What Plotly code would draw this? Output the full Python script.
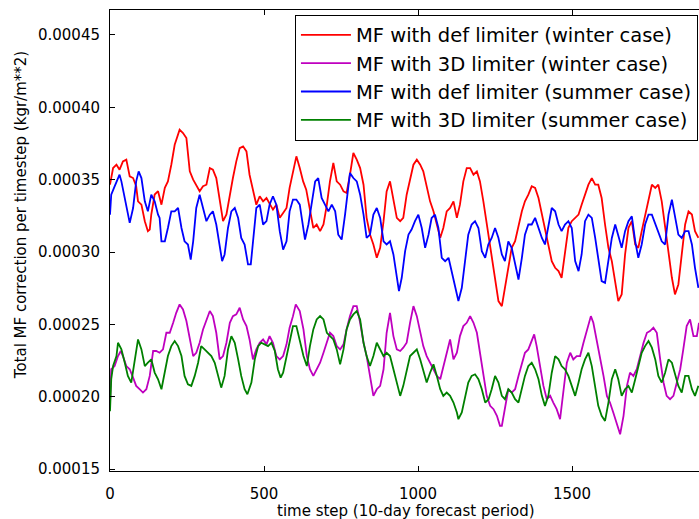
import plotly.graph_objects as go

UNIT = 1e-4  # values below are in units of 1e-4 kgr/m**2

names = [
    "MF with def limiter (winter case)",
    "MF with 3D limiter (winter case)",
    "MF with def limiter (summer case)",
    "MF with 3D limiter (summer case)",
]
colors = ["#ff0000", "#bf00bf", "#0000ff", "#008000"]

x_ticks = [0, 500, 1000, 1500]
y_ticks = [0.00015, 0.00020, 0.00025, 0.00030, 0.00035, 0.00040, 0.00045]

winter_def = [(0,3.465),(10,3.580),(21,3.603),(31,3.569),(42,3.626),(53,3.638),(64,3.523),(75,3.511),(85,3.454),(91,3.350),(102,3.327),(113,3.213),(123,3.144),(129,3.155),(134,3.259),(145,3.397),(156,3.420),(167,3.327),(178,3.443),(188,3.488),(199,3.603),(210,3.741),(226,3.845),(237,3.822),(248,3.787),(259,3.557),(270,3.500),(280,3.465),(291,3.420),(302,3.454),(313,3.465),(324,3.580),(334,3.569),(345,3.511),(356,3.350),(367,3.213),(378,3.259),(389,3.397),(399,3.511),(410,3.626),(421,3.718),(432,3.730),(443,3.695),(453,3.534),(464,3.420),(475,3.327),(486,3.385),(497,3.350),(508,3.373),(518,3.339),(529,3.293),(540,3.327),(551,3.236),(562,3.270),(573,3.304),(583,3.443),(594,3.557),(605,3.661),(616,3.580),(627,3.488),(637,3.431),(649,3.281),(660,3.166),(671,3.190),(682,3.144),(693,3.190),(704,3.327),(714,3.488),(725,3.615),(736,3.488),(747,3.465),(758,3.419),(768,3.408),(779,3.534),(790,3.684),(801,3.638),(812,3.580),(823,3.465),(833,3.236),(844,3.121),(855,3.052),(866,2.960),(877,3.029),(888,3.213),(898,3.419),(909,3.488),(920,3.350),(931,3.236),(942,3.213),(952,3.236),(963,3.396),(974,3.511),(985,3.603),(996,3.638),(1007,3.603),(1017,3.557),(1028,3.443),(1039,3.350),(1050,3.281),(1061,3.190),(1072,3.098),(1082,3.166),(1093,3.281),(1104,3.304),(1115,3.350),(1126,3.236),(1136,3.327),(1147,3.488),(1158,3.580),(1169,3.580),(1180,3.534),(1191,3.557),(1201,3.488),(1212,3.350),(1223,3.190),(1234,3.029),(1245,2.868),(1261,2.661),(1272,2.626),(1282,2.753),(1293,2.914),(1304,3.029),(1315,3.075),(1326,3.190),(1337,3.281),(1347,3.350),(1358,3.396),(1369,3.454),(1380,3.443),(1391,3.373),(1402,3.259),(1412,3.144),(1423,3.029),(1434,2.937),(1445,2.891),(1456,2.868),(1466,2.822),(1477,2.983),(1488,3.167),(1499,3.213),(1510,3.236),(1521,3.259),(1531,3.327),(1542,3.396),(1553,3.465),(1564,3.511),(1575,3.465),(1585,3.465),(1596,3.373),(1607,3.190),(1618,3.029),(1629,2.937),(1640,2.799),(1650,2.661),(1661,2.707),(1672,2.983),(1683,3.167),(1694,3.213),(1705,3.052),(1715,3.029),(1726,3.144),(1737,3.259),(1748,3.373),(1759,3.465),(1770,3.443),(1780,3.465),(1791,3.350),(1802,3.167),(1813,2.983),(1824,2.822),(1834,2.707),(1845,2.776),(1856,2.983),(1867,3.190),(1878,3.281),(1889,3.259),(1899,3.144),(1910,3.098)]

winter_3d = [(0,1.95),(4,2.190),(15,2.212),(26,2.281),(35,2.316),(42,2.281),(53,2.212),(64,2.190),(75,2.132),(85,2.075),(96,2.052),(107,2.029),(118,2.052),(129,2.144),(140,2.316),(150,2.316),(161,2.304),(172,2.327),(183,2.442),(194,2.442),(205,2.511),(215,2.580),(226,2.638),(237,2.603),(248,2.523),(259,2.396),(270,2.281),(280,2.304),(291,2.373),(302,2.465),(313,2.534),(324,2.592),(334,2.557),(345,2.442),(356,2.258),(367,2.281),(378,2.373),(389,2.511),(399,2.557),(410,2.569),(421,2.615),(432,2.534),(443,2.488),(453,2.396),(464,2.258),(475,2.327),(486,2.373),(497,2.396),(508,2.362),(518,2.419),(529,2.373),(540,2.281),(551,2.258),(562,2.281),(573,2.362),(583,2.477),(594,2.557),(603,2.638),(616,2.592),(628,2.465),(639,2.281),(649,2.190),(660,2.144),(671,2.190),(682,2.235),(693,2.304),(704,2.373),(714,2.442),(725,2.419),(736,2.350),(747,2.327),(758,2.362),(768,2.465),(779,2.557),(790,2.626),(801,2.626),(812,2.511),(823,2.373),(833,2.281),(844,2.144),(855,2.006),(866,2.052),(877,2.075),(888,2.190),(898,2.442),(909,2.580),(920,2.419),(931,2.327),(942,2.316),(952,2.339),(963,2.373),(974,2.511),(985,2.626),(996,2.557),(1007,2.442),(1017,2.350),(1028,2.281),(1039,2.235),(1050,2.190),(1061,2.144),(1072,2.121),(1082,2.212),(1093,2.304),(1104,2.396),(1115,2.258),(1126,2.304),(1136,2.419),(1147,2.488),(1158,2.511),(1169,2.557),(1180,2.511),(1191,2.442),(1201,2.304),(1212,2.166),(1223,2.006),(1234,1.937),(1245,1.914),(1256,1.868),(1266,1.799),(1272,1.799),(1282,1.914),(1293,2.052),(1304,2.029),(1315,2.052),(1326,2.144),(1337,2.235),(1347,2.304),(1358,2.327),(1369,2.396),(1377,2.431),(1385,2.350),(1396,2.212),(1407,2.075),(1418,1.983),(1429,2.006),(1439,1.960),(1450,1.914),(1461,1.845),(1472,2.052),(1483,2.235),(1494,2.304),(1504,2.258),(1515,2.281),(1526,2.281),(1537,2.373),(1548,2.465),(1561,2.557),(1569,2.511),(1580,2.396),(1591,2.258),(1602,2.144),(1613,2.006),(1623,1.960),(1634,1.890),(1645,1.822),(1656,1.741),(1667,1.868),(1678,2.075),(1688,2.166),(1699,2.144),(1710,2.190),(1721,2.281),(1732,2.373),(1743,2.442),(1753,2.454),(1764,2.477),(1775,2.442),(1786,2.258),(1797,2.097),(1807,2.006),(1818,1.983),(1829,2.006),(1840,2.097),(1851,2.190),(1861,2.327),(1872,2.488),(1883,2.534),(1894,2.419),(1905,2.419),(1912,2.511)]

summer_def = [(0,3.258),(4,3.396),(15,3.454),(26,3.511),(31,3.534),(37,3.488),(48,3.373),(58,3.281),(64,3.201),(75,3.304),(85,3.488),(93,3.557),(102,3.511),(113,3.350),(123,3.281),(134,3.396),(145,3.350),(156,3.258),(161,3.235),(167,3.074),(178,3.074),(188,3.166),(199,3.281),(210,3.281),(221,3.304),(232,3.166),(242,3.074),(253,3.052),(262,2.948),(270,3.074),(280,3.304),(291,3.396),(302,3.304),(313,3.213),(324,3.258),(334,3.281),(345,3.190),(356,3.029),(364,2.937),(372,2.983),(383,3.166),(394,3.281),(405,3.304),(416,3.235),(426,3.097),(437,3.052),(448,2.914),(457,2.914),(464,3.074),(475,3.304),(486,3.327),(497,3.190),(508,3.213),(518,3.327),(529,3.385),(540,3.327),(551,3.144),(562,3.017),(573,3.074),(583,3.281),(594,3.362),(605,3.362),(616,3.327),(628,3.144),(633,3.086),(644,3.190),(655,3.327),(666,3.488),(676,3.511),(687,3.373),(698,3.327),(709,3.281),(720,3.327),(731,3.281),(741,3.120),(752,3.086),(763,3.258),(774,3.442),(779,3.546),(790,3.511),(801,3.488),(812,3.396),(823,3.258),(833,3.097),(844,3.120),(855,3.258),(866,3.304),(877,3.235),(888,3.074),(898,3.052),(909,3.074),(920,2.983),(931,2.845),(938,2.730),(947,2.822),(958,3.006),(969,3.120),(979,3.155),(990,3.213),(1001,3.258),(1012,3.166),(1023,3.029),(1034,3.120),(1044,3.235),(1055,3.258),(1066,3.166),(1077,2.960),(1088,2.937),(1099,2.960),(1109,2.868),(1120,2.753),(1131,2.661),(1142,2.753),(1153,2.960),(1163,3.120),(1174,3.190),(1185,3.213),(1196,3.166),(1207,3.006),(1218,2.960),(1228,3.052),(1239,3.097),(1250,3.166),(1261,3.097),(1272,2.983),(1282,2.937),(1293,3.074),(1304,3.029),(1315,2.914),(1326,2.810),(1337,2.960),(1347,3.120),(1358,3.190),(1369,3.190),(1380,3.236),(1391,3.166),(1402,3.097),(1412,3.052),(1423,3.190),(1434,3.304),(1445,3.281),(1456,3.190),(1466,3.144),(1477,3.190),(1488,3.213),(1499,3.166),(1510,2.937),(1521,2.868),(1531,2.983),(1542,3.213),(1553,3.258),(1564,3.236),(1575,3.097),(1585,2.937),(1596,2.799),(1607,2.787),(1618,2.937),(1629,3.097),(1640,3.190),(1650,3.120),(1661,3.029),(1672,3.144),(1683,3.213),(1694,3.247),(1705,3.074),(1715,2.960),(1726,3.052),(1737,3.190),(1748,3.258),(1759,3.258),(1770,3.190),(1780,3.144),(1791,3.074),(1802,3.052),(1813,3.258),(1824,3.362),(1834,3.236),(1845,3.120),(1856,3.097),(1867,3.144),(1878,3.144),(1889,3.052),(1899,2.891),(1910,2.753)]

summer_3d = [(0,1.90),(4,2.121),(10,2.212),(21,2.281),(26,2.373),(37,2.327),(48,2.235),(58,2.144),(69,2.098),(80,2.259),(91,2.396),(102,2.327),(113,2.212),(123,2.235),(134,2.259),(145,2.167),(156,2.121),(167,2.052),(178,2.167),(188,2.281),(199,2.350),(210,2.385),(221,2.350),(232,2.281),(242,2.144),(253,2.086),(264,2.075),(275,2.144),(286,2.235),(296,2.350),(307,2.327),(318,2.304),(329,2.281),(340,2.235),(351,2.144),(361,2.063),(372,2.144),(383,2.327),(394,2.419),(405,2.373),(416,2.258),(426,2.144),(437,2.052),(446,2.017),(459,2.098),(470,2.258),(481,2.350),(491,2.373),(502,2.362),(513,2.350),(524,2.373),(535,2.316),(545,2.190),(554,2.132),(562,2.167),(573,2.281),(583,2.396),(594,2.488),(605,2.488),(616,2.396),(628,2.281),(639,2.212),(649,2.350),(660,2.465),(671,2.534),(682,2.557),(693,2.534),(704,2.442),(714,2.419),(725,2.396),(736,2.327),(747,2.224),(758,2.327),(768,2.465),(779,2.534),(790,2.569),(801,2.592),(812,2.534),(823,2.373),(833,2.281),(844,2.212),(855,2.281),(866,2.373),(877,2.327),(888,2.281),(898,2.304),(909,2.281),(920,2.190),(931,2.098),(942,2.006),(952,2.075),(963,2.190),(974,2.281),(985,2.304),(996,2.327),(1007,2.258),(1017,2.190),(1028,2.098),(1039,2.166),(1050,2.224),(1061,2.144),(1072,2.052),(1082,2.006),(1093,2.029),(1104,2.006),(1115,1.960),(1126,1.891),(1131,1.845),(1142,1.891),(1153,2.006),(1163,2.098),(1174,2.144),(1185,2.155),(1196,2.121),(1207,2.052),(1218,1.960),(1229,1.983),(1239,2.052),(1250,2.144),(1261,2.098),(1272,2.006),(1282,1.983),(1293,2.052),(1304,2.029),(1315,1.983),(1326,1.960),(1337,2.052),(1347,2.144),(1358,2.212),(1369,2.235),(1380,2.190),(1391,2.121),(1402,2.006),(1412,1.937),(1423,2.006),(1434,2.166),(1445,2.281),(1456,2.258),(1466,2.212),(1477,2.190),(1488,2.144),(1499,2.075),(1510,2.006),(1521,2.098),(1531,2.190),(1542,2.258),(1553,2.304),(1564,2.212),(1575,2.052),(1585,1.937),(1596,1.868),(1607,1.833),(1618,1.960),(1629,2.121),(1640,2.190),(1650,2.121),(1661,2.006),(1672,2.052),(1683,2.075),(1694,2.029),(1705,2.121),(1715,2.212),(1726,2.304),(1737,2.350),(1748,2.385),(1759,2.339),(1770,2.258),(1780,2.144),(1791,2.098),(1802,2.166),(1813,2.258),(1824,2.235),(1834,2.166),(1845,2.075),(1856,2.029),(1867,2.144),(1878,2.144),(1889,2.052),(1899,2.006),(1910,2.075)]

series = [winter_def, winter_3d, summer_def, summer_3d]

FONT = "DejaVu Sans"
fig = go.Figure()
for name, color, data in zip(names, colors, series):
    fig.add_trace(go.Scatter(
        x=[p[0] for p in data],
        y=[p[1] * UNIT for p in data],
        mode="lines",
        name=name,
        legendgroup=name,
        line=dict(color=color, width=1.8),
    ))

fig.update_layout(
    width=699, height=519,
    margin=dict(l=110, r=0, t=10, b=48),
    paper_bgcolor="white", plot_bgcolor="white",
    font=dict(family=FONT, size=15, color="black"),
    showlegend=True,
    legend=dict(
        x=0.314, y=0.99, xanchor="left", yanchor="top",
        bordercolor="black", borderwidth=1, bgcolor="white",
        font=dict(family=FONT, size=19.5, color="black"),
        traceorder="grouped", tracegroupgap=0, itemwidth=50,
    ),
    xaxis=dict(
        range=[0, 1912], tickvals=x_ticks, ticktext=[str(t) for t in x_ticks],
        ticks="inside", ticklen=5, tickcolor="black", tickwidth=1,
        showline=True, linecolor="black", linewidth=1, mirror="ticks",
        showgrid=False, zeroline=False, ticklabelstandoff=9,
        tickfont=dict(family=FONT, size=15, color="black"),
    ),
    yaxis=dict(
        range=[1.487e-4, 4.672e-4], tickvals=y_ticks, tickformat=".5f",
        ticks="inside", ticklen=5, tickcolor="black", tickwidth=1,
        showline=True, linecolor="black", linewidth=1, mirror=False,
        showgrid=False, zeroline=False, ticklabelstandoff=6,
        tickfont=dict(family=FONT, size=15, color="black"),
    ),
    annotations=[
        dict(text="Total MF correction per timestep (kgr/m**2)", xref="paper", yref="paper",
             x=-0.151, y=0.555, xanchor="center", yanchor="middle", textangle=-90,
             showarrow=False, font=dict(family=FONT, size=15, color="black")),
        dict(text="time step (10-day forecast period)", xref="paper", yref="paper",
             x=0.5025, y=-0.087, xanchor="center", yanchor="middle",
             showarrow=False, font=dict(family=FONT, size=15, color="black")),
    ],
)

fig.write_html("out.html", config={"displayModeBar": False},
               post_script="document.body.style.margin='0';document.body.style.overflow='hidden';")
